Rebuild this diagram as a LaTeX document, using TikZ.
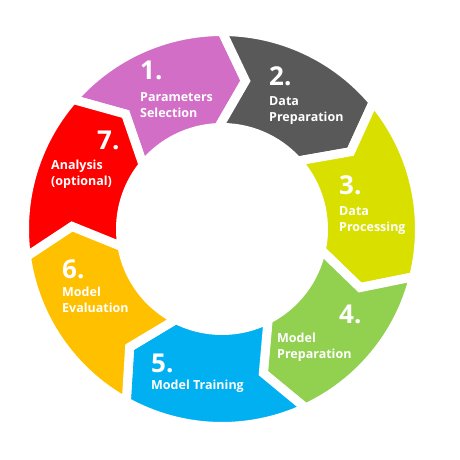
\documentclass[tikz,border=0pt]{standalone}
\usepackage{fontspec}
\setmainfont{Open Sans}
\usetikzlibrary{positioning}
\definecolor{Orchid}{HTML}{D36EC7}
\definecolor{Graphite}{HTML}{595959}
\definecolor{Lime}{HTML}{D9E000}
\definecolor{Leaf}{HTML}{92D050}
\definecolor{Sky}{HTML}{00B0F0}
\definecolor{Gold}{HTML}{FFC000}
\definecolor{Scarlet}{HTML}{FF0000}
\tikzset{
  segment/.style={draw=white,line width=9pt,line join=miter},
  numlabel/.style={text=white,font=\bfseries\fontsize{26}{26}\selectfont,inner sep=0pt,anchor=base west},
  steplabel/.style={text=white,font=\bfseries\fontsize{12.5}{16}\selectfont,inner sep=0pt,align=left,anchor=north west}
}
\begin{document}
\begin{tikzpicture}[x=1pt,y=1pt]
  \useasboundingbox (-222,-231) rectangle (238,229);
  % ring of chevron segments, clockwise
  \foreach \a/\b/\c in {139/90/Orchid,90/40/Graphite,40/-14/Lime,-14/-65/Leaf,-65/-119/Sky,-119/-172/Gold,-172/-221/Scarlet}
    \filldraw[segment,fill=\c] (\a:197.5pt) arc[start angle=\a,end angle=\b,radius=197.5pt] -- (\b-9:150pt) -- (\b+2:101.5pt) arc[start angle=\b+2,end angle=\a+2,radius=101.5pt] -- (\a-9:150pt) -- cycle;
  % numbers
  \node[numlabel] (n1) at (-82,149) {1.};
  \node[numlabel] (n2) at (47,143) {2.};
  \node[numlabel] (n3) at (117,34) {3.};
  \node[numlabel] (n4) at (117,-94) {4.};
  \node[numlabel] (n5) at (-71,-143) {5.};
  \node[numlabel] (n6) at (-160,-49) {6.};
  \node[numlabel] (n7) at (-125,79) {7.};
  % step names
  \node[steplabel] (t1) at (-82,137) {Parameters\\Selection};
  \node[steplabel] (t2) at (47,133) {Data\\Preparation};
  \node[steplabel] (t3) at (117,23) {Data\\Processing};
  \node[steplabel] (t4) at (55,-104) {Model\\Preparation};
  \node[steplabel] (t5) at (-71,-151) {Model Training};
  \node[steplabel] (t6) at (-160,-58) {Model\\Evaluation};
  \node[steplabel] (t7) at (-171,69) {Analysis\\(optional)};
\end{tikzpicture}
\end{document}
